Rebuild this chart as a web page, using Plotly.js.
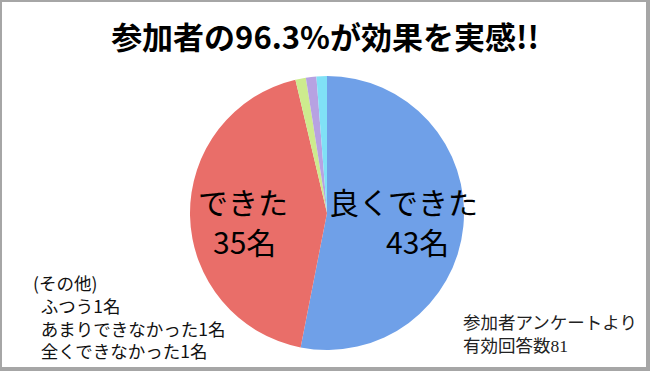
<!DOCTYPE html>
<html>
<head>
<meta charset="utf-8">
<script src="https://cdn.plot.ly/plotly-3.0.1.min.js"></script>
<style>html,body{margin:0;padding:0;background:#fff;}#chart{width:650px;height:371px;}</style>
</head>
<body>
<div id="chart"></div>
<script>
const categories = ["良くできた", "できた", "ふつう", "あまりできなかった", "全くできなかった"];
const values = [43, 35, 1, 1, 1];
const colors = ["#6fa0e8", "#e96e69", "#cdeb8e", "#b7a2e2", "#80e1f6"];
const titleText = "参加者の96.3%が効果を実感!!";
const otherHeader = "(その他)";
const sourceLines = ["参加者アンケートより", "有効回答数81"];
const unit = "名";

const W = 650, H = 371;
const cx = 327, cy = 213, r = 137;

const trace = {
  type: "pie",
  labels: categories,
  values: values,
  sort: false,
  direction: "clockwise",
  rotation: 0,
  textinfo: "none",
  hoverinfo: "label+value",
  marker: {colors: colors, line: {width: 0}},
  domain: {x: [(cx - r) / W, (cx + r) / W], y: [(H - cy - r) / H, (H - cy + r) / H]},
  showlegend: false
};

const px = x => x / W;
const py = y => 1 - y / H;
const bigFont = {family: "Noto Sans CJK JP, sans-serif", size: 30, color: "#000"};
const noteFont = {family: "Noto Sans CJK JP, sans-serif", size: 17.5, color: "#111"};
const serifFont = {family: "Liberation Serif, DejaVu Serif, Noto Sans CJK JP, serif", size: 17.5, color: "#222"};

const ind = "&nbsp;&nbsp;";
const otherText = [otherHeader]
  .concat([2, 3, 4].map(i => ind + categories[i] + values[i] + unit))
  .join("<br>");

const annotations = [
  {text: categories[0], x: px(404), y: py(201), font: bigFont},
  {text: values[0] + unit, x: px(417), y: py(241), font: bigFont},
  {text: categories[1], x: px(243), y: py(201), font: bigFont},
  {text: values[1] + unit, x: px(244), y: py(241), font: bigFont},
  {text: otherText, x: px(31), y: py(316), font: noteFont, xanchor: "left", align: "left"},
  {text: sourceLines.join("<br>"), x: px(461), y: py(334), font: serifFont, xanchor: "left", align: "left"}
].map(a => Object.assign({xref: "paper", yref: "paper", showarrow: false, yanchor: "middle", xanchor: "center"}, a));

const layout = {
  width: W, height: H,
  margin: {l: 0, r: 0, t: 0, b: 0},
  paper_bgcolor: "#fff",
  title: {text: "<b>" + titleText + "</b>", x: 0.5, xanchor: "center", xref: "paper",
          y: py(38), yanchor: "middle", yref: "paper",
          font: {family: "Noto Sans CJK JP, sans-serif", size: 31, color: "#000"}},
  shapes: [
    {type: "rect", xref: "paper", yref: "paper", x0: 0, x1: 1, y0: 0, y1: 1,
     fillcolor: "#a6a6a6", line: {width: 0}, layer: "below"},
    {type: "rect", xref: "paper", yref: "paper", x0: px(2), x1: px(646), y0: py(367), y1: py(2),
     fillcolor: "#ffffff", line: {width: 0}, layer: "below"}
  ],
  annotations: annotations
};

Plotly.newPlot("chart", [trace], layout, {displayModeBar: false, staticPlot: true});
</script>
</body>
</html>
